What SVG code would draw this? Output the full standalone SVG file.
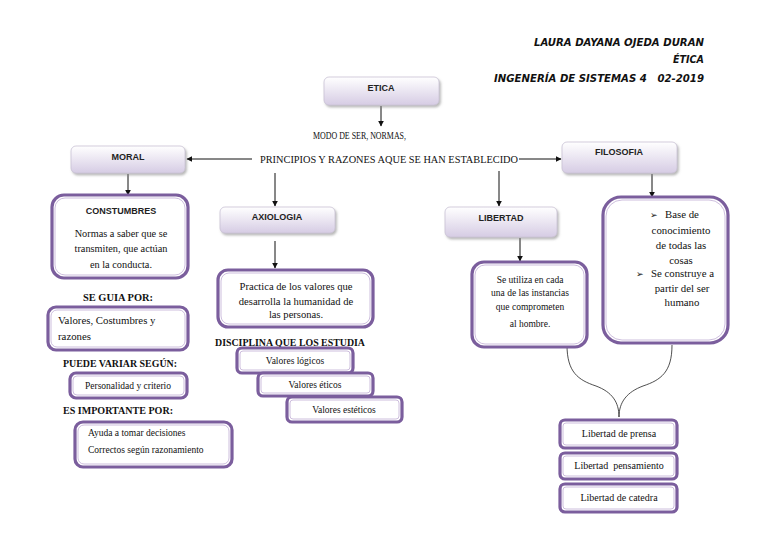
<svg xmlns="http://www.w3.org/2000/svg" width="768" height="543" viewBox="0 0 768 543">
<defs>
<linearGradient id="g" x1="0" y1="0" x2="0" y2="1">
<stop offset="0" stop-color="#ffffff"/>
<stop offset="1" stop-color="#d6cce4"/>
</linearGradient>
<filter id="sh" x="-10%" y="-10%" width="130%" height="140%">
<feDropShadow dx="1.5" dy="2" stdDeviation="1.2" flood-color="#8a8a8a" flood-opacity="0.6"/>
</filter>
<marker id="ar" viewBox="0 0 10 10" refX="9" refY="5" markerWidth="6" markerHeight="6" orient="auto" markerUnits="userSpaceOnUse">
<path d="M0,0 L10,5 L0,10 z" fill="#111"/>
</marker>
<style>
.gb{fill:url(#g);stroke:#c9c1d4;stroke-width:0.8;filter:url(#sh)}
.pb{fill:#fff;stroke:#7b5e9d;stroke-width:3.2}
.pi{fill:none;stroke:#c7b7d9;stroke-width:0.9}
.t{font-family:"Liberation Sans",Arial,sans-serif;font-weight:bold;font-size:9px;fill:#222;text-anchor:middle}
.b{font-family:"Liberation Serif","Times New Roman",serif;font-size:9.5px;fill:#111;text-anchor:middle}
.s{text-anchor:start}
.f10{font-size:10px}
.f103{font-size:10.3px}
.f106{font-size:10.6px}
.f108{font-size:10.8px}
.f11{font-size:11px}
.h{font-family:"Liberation Serif","Times New Roman",serif;font-weight:bold;font-size:10px;fill:#111}
.hd{font-family:"DejaVu Sans Condensed","DejaVu Sans",sans-serif;font-weight:bold;font-style:italic;font-size:10px;fill:#111;text-anchor:end}
.bl{font-family:"DejaVu Sans",sans-serif;font-size:9px;fill:#111}
.c{stroke:#111;stroke-width:1;fill:none}
.br{stroke:#222;stroke-width:0.8;fill:none}
</style>
</defs>
<rect width="768" height="543" fill="#fff"/>

<g id="header">
<text class="hd" x="704" y="46" textLength="170" lengthAdjust="spacingAndGlyphs">LAURA DAYANA OJEDA DURAN</text>
<text class="hd" x="704" y="63" textLength="31" lengthAdjust="spacingAndGlyphs">ÉTICA</text>
<text class="hd" x="704" y="82" textLength="210" lengthAdjust="spacingAndGlyphs" xml:space="preserve">INGENERÍA DE SISTEMAS 4   02-2019</text>
</g>

<g id="connectors">
<line class="c" x1="381" y1="106" x2="381" y2="126" marker-end="url(#ar)"/>
<line class="c" x1="252" y1="159" x2="187" y2="159" marker-end="url(#ar)"/>
<line class="c" x1="519" y1="159" x2="561" y2="159" marker-end="url(#ar)"/>
<line class="c" x1="128" y1="174" x2="128" y2="195" marker-end="url(#ar)"/>
<line class="c" x1="275" y1="173" x2="275" y2="206" marker-end="url(#ar)"/>
<line class="c" x1="499" y1="171" x2="499" y2="206" marker-end="url(#ar)"/>
<line class="c" x1="652" y1="174" x2="652" y2="197" marker-end="url(#ar)"/>
<line class="c" x1="275" y1="241" x2="275" y2="268" marker-end="url(#ar)"/>
<line class="c" x1="520" y1="238" x2="520" y2="261" marker-end="url(#ar)"/>
<path class="br" d="M567,345 C567,372 578,380 596,386 C612,392 619,402 619,417"/>
<path class="br" d="M672,345 C672,372 661,380 643,386 C627,392 619,402 619,417"/>
</g>

<g id="etica">
<rect class="gb" x="324" y="77" width="115" height="28" rx="5"/>
<text class="t" x="381" y="91">ETICA</text>
</g>

<g id="definicion">
<text class="b f11 s" x="313" y="139" textLength="93" lengthAdjust="spacingAndGlyphs">MODO DE SER, NORMAS,</text>
<text class="b f11 s" x="260" y="163" textLength="258" lengthAdjust="spacingAndGlyphs">PRINCIPIOS Y RAZONES AQUE SE HAN ESTABLECIDO</text>
</g>

<g id="moral">
<rect class="gb" x="71" y="146" width="114" height="27" rx="5"/>
<text class="t" x="128" y="160">MORAL</text>
</g>

<g id="filosofia">
<rect class="gb" x="562" y="142" width="115" height="31" rx="5"/>
<text class="t" x="619" y="155">FILOSOFIA</text>
</g>

<g id="axiologia">
<rect class="gb" x="220" y="207" width="115" height="26" rx="5"/>
<text class="t" x="277" y="220">AXIOLOGIA</text>
</g>

<g id="libertad">
<rect class="gb" x="445" y="207" width="112" height="30" rx="5"/>
<text class="t" x="501" y="221">LIBERTAD</text>
</g>

<g id="costumbres">
<rect class="pb" x="52" y="195" width="136" height="83" rx="12"/>
<rect class="pi" x="55" y="198" width="130" height="77" rx="10"/>
<text class="t" x="121" y="214">CONSTUMBRES</text>
<text class="b f103" x="121" y="237">Normas a saber que se</text>
<text class="b f103" x="121" y="252">transmiten, que actúan</text>
<text class="b f103" x="121" y="268">en la conducta.</text>
</g>

<g id="seguia">
<text class="h" x="83" y="301" textLength="70" lengthAdjust="spacingAndGlyphs">SE GUIA POR:</text>
<rect class="pb" x="48" y="307" width="140" height="43" rx="8"/>
<rect class="pi" x="51" y="310" width="134" height="37" rx="6"/>
<text class="b f108 s" x="58" y="324">Valores, Costumbres y</text>
<text class="b f108 s" x="58" y="340">razones</text>
</g>

<g id="variar">
<text class="h" x="63" y="367" textLength="114" lengthAdjust="spacingAndGlyphs">PUEDE VARIAR SEGÚN:</text>
<rect class="pb" x="70" y="373" width="117" height="25" rx="6"/>
<rect class="pi" x="73" y="376" width="111" height="19" rx="4"/>
<text class="b" x="128" y="389">Personalidad y criterio</text>
</g>

<g id="importante">
<text class="h" x="63" y="414" textLength="110" lengthAdjust="spacingAndGlyphs">ES IMPORTANTE POR:</text>
<rect class="pb" x="75" y="422" width="157" height="45" rx="8"/>
<rect class="pi" x="78" y="425" width="151" height="39" rx="6"/>
<text class="b s" x="88" y="436">Ayuda a tomar decisiones</text>
<text class="b s" x="88" y="453">Correctos según razonamiento</text>
</g>

<g id="practica">
<rect class="pb" x="218" y="270" width="155" height="57" rx="10"/>
<rect class="pi" x="221" y="273" width="149" height="51" rx="8"/>
<text class="b f106" x="296" y="290">Practica de los valores que</text>
<text class="b f106" x="296" y="305">desarrolla la humanidad de</text>
<text class="b f106" x="296" y="318">las personas.</text>
</g>

<g id="disciplina">
<text class="h" x="215" y="346" textLength="150" lengthAdjust="spacingAndGlyphs">DISCIPLINA QUE LOS ESTUDIA</text>
</g>

<g id="logicos">
<rect class="pb" x="237" y="348" width="116" height="25" rx="5"/>
<rect class="pi" x="240" y="351" width="110" height="19" rx="3"/>
<text class="b" x="295" y="364">Valores lógicos</text>
</g>

<g id="eticos">
<rect class="pb" x="258" y="373" width="115" height="23" rx="5"/>
<rect class="pi" x="261" y="376" width="109" height="17" rx="3"/>
<text class="b" x="315" y="388">Valores éticos</text>
</g>

<g id="esteticos">
<rect class="pb" x="287" y="397" width="115" height="25" rx="5"/>
<rect class="pi" x="290" y="400" width="109" height="19" rx="3"/>
<text class="b" x="344" y="413">Valores estéticos</text>
</g>

<g id="seutiliza">
<rect class="pb" x="472" y="262" width="115" height="85" rx="12"/>
<rect class="pi" x="475" y="265" width="109" height="79" rx="10"/>
<text class="b" x="530" y="283">Se utiliza en cada</text>
<text class="b" x="530" y="296">una de las instancias</text>
<text class="b" x="530" y="310">que comprometen</text>
<text class="b" x="530" y="327">al hombre.</text>
</g>

<g id="filosofia-desc">
<rect class="pb" x="603" y="197" width="125" height="146" rx="18"/>
<rect class="pi" x="606" y="200" width="119" height="140" rx="16"/>
<text class="bl" x="650" y="218">➢</text>
<text class="b f108 s" x="665" y="218">Base de</text>
<text class="b f108" x="681" y="234">conocimiento</text>
<text class="b f108" x="681" y="249">de todas las</text>
<text class="b f108" x="681" y="264">cosas</text>
<text class="bl" x="636" y="277">➢</text>
<text class="b f108 s" x="651" y="277">Se construye a</text>
<text class="b f108" x="682" y="292">partir del ser</text>
<text class="b f108" x="682" y="306">humano</text>
</g>

<g id="prensa">
<rect class="pb" x="560" y="420" width="117" height="28" rx="5"/>
<rect class="pi" x="563" y="423" width="111" height="22" rx="3"/>
<text class="b f10" x="619" y="437">Libertad de prensa</text>
</g>

<g id="pensamiento">
<rect class="pb" x="560" y="453" width="117" height="26" rx="5"/>
<rect class="pi" x="563" y="456" width="111" height="20" rx="3"/>
<text class="b f10" x="619" y="469" xml:space="preserve">Libertad  pensamiento</text>
</g>

<g id="catedra">
<rect class="pb" x="560" y="484" width="117" height="28" rx="5"/>
<rect class="pi" x="563" y="487" width="111" height="22" rx="3"/>
<text class="b f10" x="619" y="501">Libertad de catedra</text>
</g>
</svg>
